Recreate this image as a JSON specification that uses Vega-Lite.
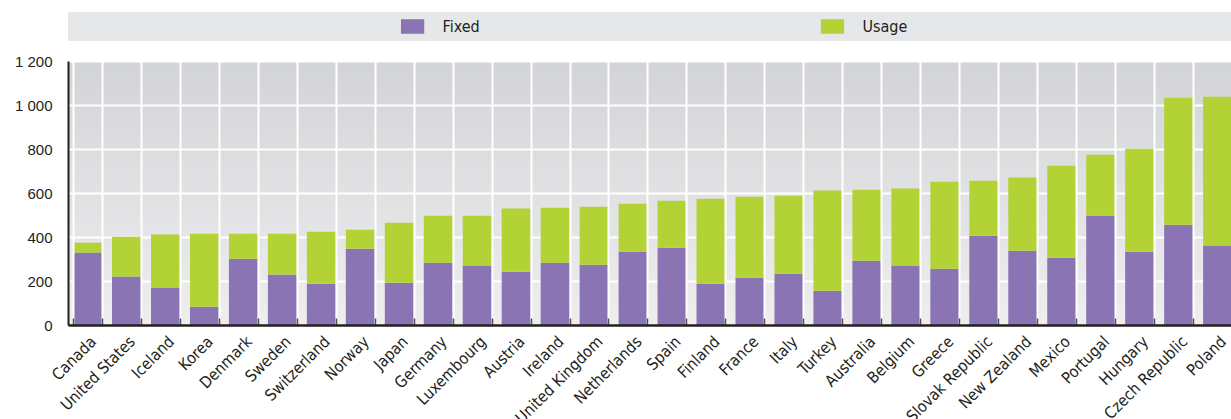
{
  "$schema": "https://vega.github.io/schema/vega-lite/v6.json",
  "padding": {"left": 14, "top": 12, "right": 0, "bottom": 0},
  "bounds": "flush",
  "spacing": 20,
  "config": {
    "font": "'Liberation Sans Narrow', 'DejaVu Sans Condensed', 'Liberation Sans', sans-serif",
    "view": {"stroke": null}
  },
  "data": {
    "values": [
      {"country": "Canada", "series": "Fixed", "value": 329}, {"country": "Canada", "series": "Usage", "value": 45},
      {"country": "United States", "series": "Fixed", "value": 220}, {"country": "United States", "series": "Usage", "value": 181},
      {"country": "Iceland", "series": "Fixed", "value": 171}, {"country": "Iceland", "series": "Usage", "value": 240},
      {"country": "Korea", "series": "Fixed", "value": 83}, {"country": "Korea", "series": "Usage", "value": 332},
      {"country": "Denmark", "series": "Fixed", "value": 301}, {"country": "Denmark", "series": "Usage", "value": 114},
      {"country": "Sweden", "series": "Fixed", "value": 229}, {"country": "Sweden", "series": "Usage", "value": 186},
      {"country": "Switzerland", "series": "Fixed", "value": 188}, {"country": "Switzerland", "series": "Usage", "value": 236},
      {"country": "Norway", "series": "Fixed", "value": 347}, {"country": "Norway", "series": "Usage", "value": 86},
      {"country": "Japan", "series": "Fixed", "value": 192}, {"country": "Japan", "series": "Usage", "value": 273},
      {"country": "Germany", "series": "Fixed", "value": 283}, {"country": "Germany", "series": "Usage", "value": 214},
      {"country": "Luxembourg", "series": "Fixed", "value": 270}, {"country": "Luxembourg", "series": "Usage", "value": 227},
      {"country": "Austria", "series": "Fixed", "value": 242}, {"country": "Austria", "series": "Usage", "value": 287},
      {"country": "Ireland", "series": "Fixed", "value": 283}, {"country": "Ireland", "series": "Usage", "value": 250},
      {"country": "United Kingdom", "series": "Fixed", "value": 274}, {"country": "United Kingdom", "series": "Usage", "value": 264},
      {"country": "Netherlands", "series": "Fixed", "value": 333}, {"country": "Netherlands", "series": "Usage", "value": 218},
      {"country": "Spain", "series": "Fixed", "value": 351}, {"country": "Spain", "series": "Usage", "value": 214},
      {"country": "Finland", "series": "Fixed", "value": 188}, {"country": "Finland", "series": "Usage", "value": 386},
      {"country": "France", "series": "Fixed", "value": 215}, {"country": "France", "series": "Usage", "value": 368},
      {"country": "Italy", "series": "Fixed", "value": 233}, {"country": "Italy", "series": "Usage", "value": 355},
      {"country": "Turkey", "series": "Fixed", "value": 156}, {"country": "Turkey", "series": "Usage", "value": 455},
      {"country": "Australia", "series": "Fixed", "value": 292}, {"country": "Australia", "series": "Usage", "value": 323},
      {"country": "Belgium", "series": "Fixed", "value": 270}, {"country": "Belgium", "series": "Usage", "value": 350},
      {"country": "Greece", "series": "Fixed", "value": 256}, {"country": "Greece", "series": "Usage", "value": 395},
      {"country": "Slovak Republic", "series": "Fixed", "value": 406}, {"country": "Slovak Republic", "series": "Usage", "value": 250},
      {"country": "New Zealand", "series": "Fixed", "value": 338}, {"country": "New Zealand", "series": "Usage", "value": 332},
      {"country": "Mexico", "series": "Fixed", "value": 306}, {"country": "Mexico", "series": "Usage", "value": 418},
      {"country": "Portugal", "series": "Fixed", "value": 497}, {"country": "Portugal", "series": "Usage", "value": 277},
      {"country": "Hungary", "series": "Fixed", "value": 333}, {"country": "Hungary", "series": "Usage", "value": 468},
      {"country": "Czech Republic", "series": "Fixed", "value": 456}, {"country": "Czech Republic", "series": "Usage", "value": 577},
      {"country": "Poland", "series": "Fixed", "value": 361}, {"country": "Poland", "series": "Usage", "value": 677}
    ]
  },
  "vconcat": [
    {
      "width": 1169,
      "height": 29,
      "view": {"fill": "#e6e7e8", "stroke": null},
      "transform": [{"aggregate": [{"op": "count", "as": "n"}], "groupby": ["series"]}],
      "encoding": {
        "x": {
          "field": "series",
          "type": "nominal",
          "scale": {"type": "point", "domain": ["Fixed", "Usage"], "padding": 0.892, "align": 0.46},
          "axis": null
        }
      },
      "layer": [
        {
          "mark": {"type": "point", "shape": "M-1.55,-0.97H1.55V0.97H-1.55Z", "filled": true, "size": 225, "opacity": 1, "strokeWidth": 0},
          "encoding": {
            "color": {"field": "series", "type": "nominal", "scale": {"domain": ["Fixed", "Usage"], "range": ["#8a74b4", "#b2d235"]}, "legend": null}
          }
        },
        {
          "mark": {"type": "text", "align": "left", "baseline": "middle", "dx": 30, "fontSize": 16, "color": "#231f20"},
          "encoding": {"text": {"field": "series"}}
        }
      ]
    },
    {
      "width": 1169,
      "height": 264,
      "view": {
        "stroke": null,
        "fill": {
          "gradient": "linear",
          "x1": 0, "y1": 0, "x2": 0, "y2": 1,
          "stops": [{"offset": 0, "color": "#d3d4d7"}, {"offset": 1, "color": "#eeeeef"}]
        }
      },
      "mark": {"type": "bar"},
      "encoding": {
        "x": {
          "field": "country",
          "type": "nominal",
          "sort": null,
          "scale": {"paddingInner": 0.26, "paddingOuter": 0.13},
          "axis": {
            "title": null,
            "labelAngle": -45,
            "labelFontSize": 16,
            "labelColor": "#231f20",
            "labelPadding": 15,
            "tickBand": "extent",
            "grid": true,
            "gridColor": "#ffffff",
            "gridWidth": 2,
            "ticks": true,
            "tickSize": -7,
            "tickColor": "#4d4d4f",
            "tickWidth": 1.5,
            "domainColor": "#231f20",
            "domainWidth": 2.5,
            "zindex": 1
          }
        },
        "y": {
          "field": "value",
          "type": "quantitative",
          "stack": "zero",
          "scale": {"domain": [0, 1200]},
          "axis": {
            "title": null,
            "values": [0, 200, 400, 600, 800, 1000, 1200],
            "labelExpr": "replace(format(datum.value, ','), ',', ' ')",
            "labelFont": "Liberation Sans",
            "labelFontSize": 15,
            "labelColor": "#231f20",
            "labelPadding": 16,
            "ticks": false,
            "grid": true,
            "gridColor": "#ffffff",
            "gridWidth": 2,
            "domainColor": "#231f20",
            "domainWidth": 2
          }
        },
        "color": {
          "field": "series",
          "type": "nominal",
          "scale": {"domain": ["Fixed", "Usage"], "range": ["#8a74b4", "#b2d235"]},
          "legend": null
        },
        "order": {"field": "series", "type": "nominal"}
      }
    }
  ]
}
